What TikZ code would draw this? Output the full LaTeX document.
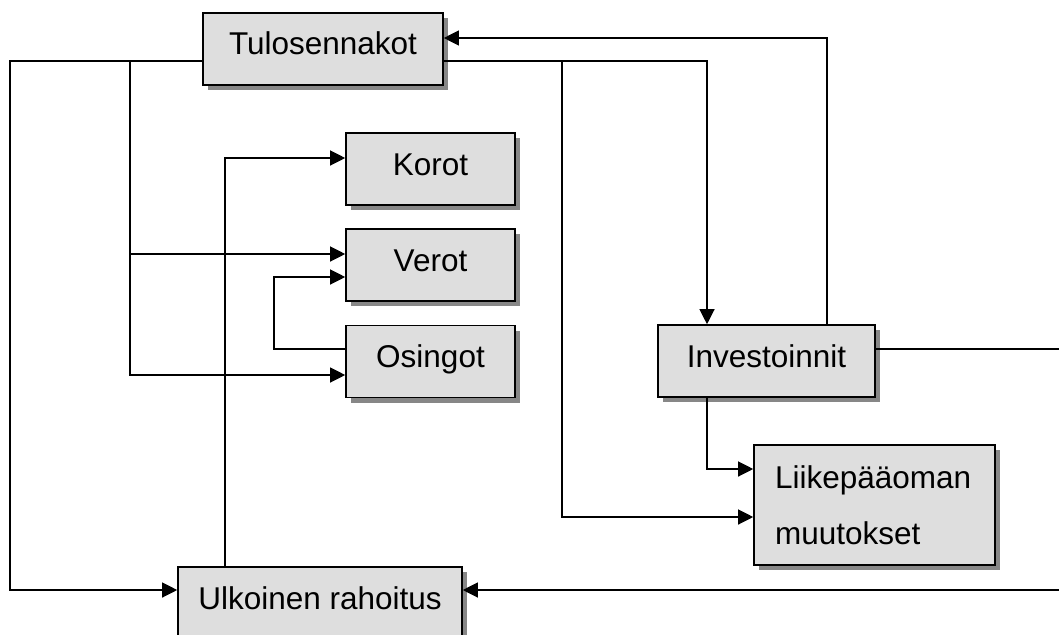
\documentclass[tikz,border=0pt]{standalone}
\usepackage{fontspec}
\setmainfont{Liberation Sans}
\usetikzlibrary{arrows.meta,shadows}

\begin{document}
\begin{tikzpicture}[%
      x=1pt, y=-1pt,
      box/.style={draw=black, line width=1.6pt, fill=black!13, inner sep=0pt,
        minimum height=72pt, font=\fontsize{31.5}{38}\selectfont,
        drop shadow={shadow xshift=5pt, shadow yshift=-5pt, fill=black!47, opacity=1}},
      onerow/.style={text height=24pt, text depth=12pt},
      flow/.style={line width=1.2pt, -{Triangle[length=15pt,width=15pt]}},
      ]
      \useasboundingbox (0,0) rectangle (1059,634);
      \clip (0,0) rectangle (1059,634);

      \node [box, onerow, minimum width=240pt] (tulos) at (323,49) {Tulosennakot};
      \node [box, onerow, minimum width=169pt] (korot) at (430.5,169) {Korot};
      \node [box, onerow, minimum width=169pt] (verot) at (430.5,265) {Verot};
      \node [box, onerow, minimum width=169pt] (osingot) at (430.5,361.5) {Osingot};
      \node [box, onerow, minimum width=217pt] (invest) at (766.5,361) {Investoinnit};
      \node [box, minimum width=241pt, minimum height=120pt, text width=199pt,
        inner xsep=21pt, align=left, font=\fontsize{31.5}{56}\selectfont]
        (liike) at (874.5,505) {Liikepääoman\\muutokset};
      \node [box, onerow, minimum width=284pt] (ulko) at (320,603) {Ulkoinen rahoitus};

      \coordinate (splitA) at (130,61);
      \coordinate (splitB) at (562,61);

      % left side
      \draw [flow] ([yshift=-12pt]tulos.west) -| (10,590) -- ([yshift=13pt]ulko.west);
      \draw [flow] (splitA) |- ([yshift=11pt]verot.west);
      \draw [flow] (splitA) |- ([yshift=-13.5pt]osingot.west);
      \draw [flow] ([xshift=-95pt]ulko.north) |- ([yshift=11pt]korot.west);
      \draw [flow] ([yshift=12.5pt]osingot.west) -| (274,277) -- ([yshift=-12pt]verot.west);

      % right side
      \draw [flow] ([yshift=-12pt]tulos.east) -| ([xshift=-59.5pt]invest.north);
      \draw [flow] (splitB) |- ([yshift=-12pt]liike.west);
      \draw [flow] ([xshift=-59.5pt]invest.south) |- ([yshift=36pt]liike.west);
      \draw [flow] ([xshift=60.5pt]invest.north) |- ([yshift=11pt]tulos.east);
      \draw [flow] ([yshift=12pt]invest.east) -| (1075,590) -- ([yshift=13pt]ulko.east);
\end{tikzpicture}
\end{document}
